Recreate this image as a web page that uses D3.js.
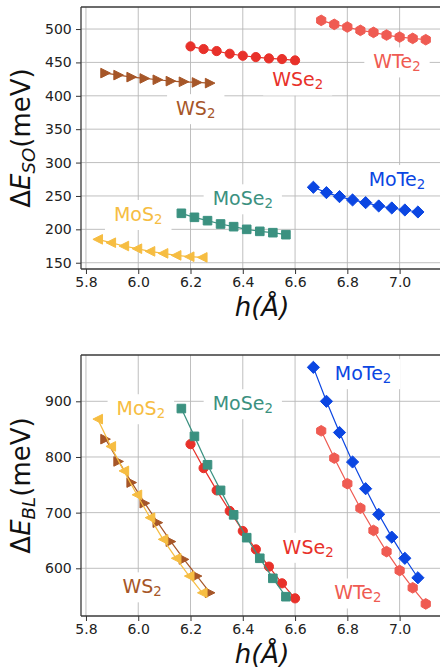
<!DOCTYPE html>
<html><head><meta charset="utf-8">
<script src="https://cdn.jsdelivr.net/npm/d3@7"></script>
<style>body{margin:0;background:#fff;} svg{display:block;font-family:"DejaVu Sans",sans-serif;}</style>
</head><body><svg id="c" width="440" height="669"></svg>
<script>
// ---------- data ----------
const materials = ["WTe2", "WSe2", "WS2", "MoTe2", "MoSe2", "MoS2"];
const hWTe2  = [6.70, 6.75, 6.80, 6.85, 6.90, 6.95, 7.00, 7.05, 7.10];
const hWSe2  = [6.20, 6.25, 6.30, 6.35, 6.40, 6.45, 6.50, 6.55, 6.60];
const hWS2   = [5.875, 5.925, 5.975, 6.025, 6.075, 6.125, 6.175, 6.225, 6.275];
const hMoTe2 = [6.67, 6.72, 6.77, 6.82, 6.87, 6.92, 6.97, 7.02, 7.07];
const hMoSe2 = [6.165, 6.215, 6.265, 6.315, 6.365, 6.415, 6.465, 6.515, 6.565];
const hMoS2  = [5.845, 5.895, 5.945, 5.995, 6.045, 6.095, 6.145, 6.195, 6.245];

const soWTe2  = [513, 507, 503, 498, 495, 491, 488, 486, 484];
const soWSe2  = [474, 470, 467, 463, 460, 458, 456, 455, 453];
const soWS2   = [434, 431, 428, 426, 424, 422, 421, 420, 419];
const soMoTe2 = [263, 255, 249, 244, 240, 235, 232, 229, 226];
const soMoSe2 = [224, 218, 213, 208, 204, 200, 197, 195, 192];
const soMoS2  = [185, 180, 175, 171, 167, 164, 161, 159, 158];

const blWTe2  = [847, 798, 752, 708, 668, 630, 596, 565, 536];
const blWSe2  = [823, 780, 740, 703, 667, 634, 603, 573, 546];
const blWS2   = [832, 792, 754, 717, 682, 648, 616, 586, 556];
const blMoTe2 = [961, 900, 844, 791, 743, 697, 656, 618, 583];
const blMoSe2 = [887, 837, 786, 740, 696, 655, 618, 582, 549];
const blMoS2  = [868, 819, 775, 732, 691, 652, 618, 586, 556];

const xTicks  = [5.8, 6.0, 6.2, 6.4, 6.6, 6.8, 7.0];
const soTicks = [150, 200, 250, 300, 350, 400, 450, 500];
const blTicks = [600, 700, 800, 900];

// annotation anchors (data units: h, energy) – centre / baseline
const soLabelAt = [[6.99, 441], [6.61, 414], [6.22, 371], [6.99, 265], [6.40, 236], [6.00, 212.5]];
const blLabelAt = [[6.84, 544], [6.65, 626], [6.015, 555], [6.86, 938], [6.40, 884], [6.01, 875]];

// ---------- styles ----------
const colors  = ["#ef5b52", "#e8312a", "#a65628", "#0b46e2", "#3b9180", "#f6bd42"];
const markers = ["hexagon", "circle", "triRight", "diamond", "square", "triLeft"];

const hs = [hWTe2, hWSe2, hWS2, hMoTe2, hMoSe2, hMoS2];
const sos = [soWTe2, soWSe2, soWS2, soMoTe2, soMoSe2, soMoS2];
const bls = [blWTe2, blWSe2, blWS2, blMoTe2, blMoSe2, blMoS2];

function markerPath(type) {
  const p = d3.path();
  if (type === "circle") { p.arc(0, 0, 4.6, 0, 2 * Math.PI); }
  else if (type === "square") { p.rect(-4.3, -4.3, 8.6, 8.6); }
  else if (type === "diamond") { const r = 6.1; p.moveTo(0, -r); p.lineTo(r, 0); p.lineTo(0, r); p.lineTo(-r, 0); p.closePath(); }
  else if (type === "hexagon") {
    const r = 5.3;
    for (let k = 0; k < 6; k++) { const a = -Math.PI / 2 + k * Math.PI / 3; const px = r * Math.cos(a), py = r * Math.sin(a); k ? p.lineTo(px, py) : p.moveTo(px, py); }
    p.closePath();
  } else if (type === "triRight") { const s = 4.8; p.moveTo(s, 0); p.lineTo(-s, -s); p.lineTo(-s, s); p.closePath(); }
  else if (type === "triLeft") { const s = 4.8; p.moveTo(-s, 0); p.lineTo(s, -s); p.lineTo(s, s); p.closePath(); }
  return p.toString();
}

const svg = d3.select("#c");
const L = 81, R = 443;
const x = d3.scaleLinear().domain([5.781, 7.166]).range([L, R]);

const panels = [
  { top: 7, bottom: 269, domain: [140.6, 533], ticks: soTicks, vals: sos, labelAt: soLabelAt, sub: "SO", xlabY: 316, ylabCY: 138 },
  { top: 355, bottom: 616, domain: [514.3, 983.2], ticks: blTicks, vals: bls, labelAt: blLabelAt, sub: "BL", xlabY: 663, ylabCY: 485.5 }
];

panels.forEach(P => {
  const y = d3.scaleLinear().domain(P.domain).range([P.bottom, P.top]);
  const g = svg.append("g");
  const clipId = "clip" + P.top;
  svg.append("clipPath").attr("id", clipId).append("rect")
    .attr("x", L).attr("y", P.top).attr("width", R - L).attr("height", P.bottom - P.top);

  // grid
  const grid = g.append("g").attr("stroke", "#b8b8b8").attr("stroke-width", 0.9);
  grid.selectAll(".vx").data(xTicks).join("line")
    .attr("x1", d => x(d)).attr("x2", d => x(d)).attr("y1", P.top).attr("y2", P.bottom);
  grid.selectAll(".hy").data(P.ticks).join("line")
    .attr("x1", L).attr("x2", R).attr("y1", d => y(d)).attr("y2", d => y(d));

  // series
  const sg = g.append("g").attr("clip-path", `url(#${clipId})`);
  materials.forEach((m, i) => {
    const pts = hs[i].map((h, j) => [h, P.vals[i][j]]);
    sg.append("path").datum(pts)
      .attr("fill", "none").attr("stroke", colors[i]).attr("stroke-width", 1.2)
      .attr("d", d3.line().x(d => x(d[0])).y(d => y(d[1])));
    sg.selectAll(null).data(pts).join("path")
      .attr("transform", d => `translate(${x(d[0])},${y(d[1])})`)
      .attr("d", markerPath(markers[i]))
      .attr("fill", colors[i]).attr("stroke", colors[i]).attr("stroke-width", 1);
  });

  // series labels with white boxes
  materials.forEach((m, i) => {
    const [lx, ly] = P.labelAt[i];
    const lg = g.append("g");
    const t = lg.append("text")
      .attr("x", x(lx)).attr("y", y(ly))
      .attr("text-anchor", "middle")
      .attr("font-size", 19).attr("fill", colors[i]);
    t.append("tspan").text(m.slice(0, -1));
    t.append("tspan").attr("font-size", 13.3).attr("dy", 3).text(m.slice(-1));
    const bb = t.node().getBBox();
    lg.insert("rect", "text")
      .attr("x", bb.x - 9).attr("y", bb.y - 3).attr("width", bb.width + 18).attr("height", bb.height + 6)
      .attr("fill", "#fff");
  });

  // axes
  const ax = g.append("g").attr("transform", `translate(0,${P.bottom})`)
    .call(d3.axisBottom(x).tickValues(xTicks).tickFormat(d3.format(".1f")).tickSize(5).tickPadding(2.6));
  const ay = g.append("g").attr("transform", `translate(${L},0)`)
    .call(d3.axisLeft(y).tickValues(P.ticks).tickFormat(d3.format("d")).tickSize(5).tickPadding(4.3));
  [ax, ay].forEach(a => {
    a.select(".domain").remove();
    a.selectAll(".tick line").attr("stroke", "#333").attr("stroke-width", 1);
    a.selectAll(".tick text").attr("fill", "#222").attr("font-size", 14).attr("font-family", "DejaVu Sans");
  });

  // spines
  const sp = g.append("g").attr("stroke", "#3a3a3a").attr("stroke-width", 1.3).attr("fill", "none");
  sp.append("line").attr("x1", L).attr("x2", L).attr("y1", P.top).attr("y2", P.bottom);
  sp.append("line").attr("x1", L).attr("x2", R).attr("y1", P.top).attr("y2", P.top);
  sp.append("line").attr("x1", L).attr("x2", R).attr("y1", P.bottom).attr("y2", P.bottom);
  sp.append("line").attr("x1", R).attr("x2", R).attr("y1", P.top).attr("y2", P.bottom);

  // x label
  const xl = g.append("text").attr("x", (L + R) / 2).attr("y", P.xlabY)
    .attr("text-anchor", "middle").attr("font-size", 26).attr("fill", "#111")
    .attr("font-style", "italic");
  xl.text("h(Å)");

  // y label
  const yl = g.append("text")
    .attr("transform", `translate(30,${P.ylabCY}) rotate(-90)`)
    .attr("text-anchor", "middle").attr("font-size", 26).attr("fill", "#111");
  yl.append("tspan").text("Δ");
  yl.append("tspan").attr("font-style", "italic").text("E");
  yl.append("tspan").attr("font-style", "italic").attr("font-size", 18.2).attr("dy", 4.5).text(P.sub);
  yl.append("tspan").attr("dy", -4.5).text("(meV)");
});
</script>
</body></html>
